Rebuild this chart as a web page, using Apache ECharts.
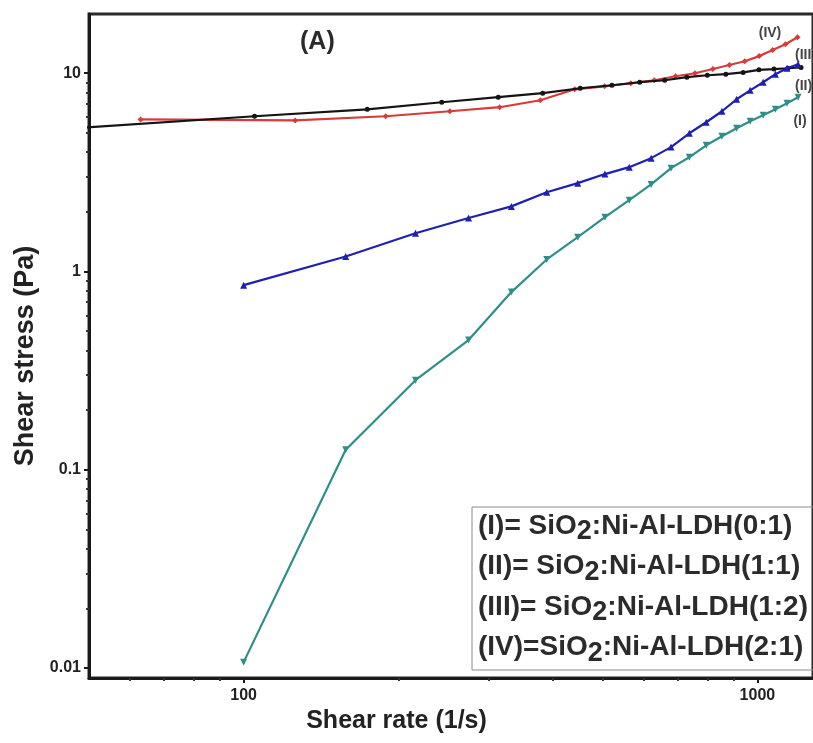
<!DOCTYPE html>
<html><head><meta charset="utf-8">
<script src="https://cdn.jsdelivr.net/npm/echarts@6/dist/echarts.min.js"></script>
<style>html,body{margin:0;padding:0;background:#fff}#c{width:813px;height:743px}</style>
</head><body><div id="c"></div>
<script>
// ---- data ----
const seriesNames = [
  '(I)= SiO2:Ni-Al-LDH(0:1)',
  '(II)= SiO2:Ni-Al-LDH(1:1)',
  '(III)= SiO2:Ni-Al-LDH(1:2)',
  '(IV)=SiO2:Ni-Al-LDH(2:1)'
];
const shortLabels = ['(I)', '(II)', '(III)', '(IV)'];
const rateI = [100, 158, 216, 274, 332, 389, 447, 505, 563, 621, 679, 737, 795, 853, 911, 968, 1026, 1084, 1142, 1200];
const stressI = [0.0107, 0.126, 0.283, 0.451, 0.787, 1.15, 1.49, 1.88, 2.29, 2.75, 3.32, 3.77, 4.33, 4.81, 5.28, 5.73, 6.14, 6.58, 7.06, 7.57];
const rateII = [100, 158, 216, 274, 332, 389, 447, 505, 563, 621, 679, 737, 795, 853, 911, 968, 1026, 1084, 1142, 1200];
const stressII = [0.853, 1.19, 1.56, 1.86, 2.13, 2.51, 2.79, 3.10, 3.36, 3.73, 4.24, 4.98, 5.66, 6.43, 7.39, 8.20, 9.01, 9.89, 10.6, 11.1];
const rateIII = [48, 105, 174, 243, 313, 382, 452, 521, 590, 660, 729, 799, 868, 938, 1007, 1077, 1146, 1216];
const stressIII = [5.30, 6.07, 6.58, 7.14, 7.57, 7.93, 8.40, 8.70, 9.01, 9.22, 9.55, 9.77, 9.89, 10.1, 10.4, 10.5, 10.6, 10.7];
const rateIV = [63, 126, 189, 252, 315, 378, 441, 504, 567, 630, 693, 756, 819, 882, 945, 1008, 1071, 1134, 1197];
const stressIV = [5.85, 5.78, 6.07, 6.43, 6.74, 7.31, 8.30, 8.59, 8.90, 9.22, 9.66, 10.0, 10.5, 11.0, 11.5, 12.2, 13.1, 14.0, 15.2];
const xMajorTicks = [100, 1000];
const xMinorTicks = [60, 70, 80, 90, 200, 300, 400, 500, 600, 700, 800, 900];
const yMajorTicks = [0.01, 0.1, 1, 10];
const yMinorTicks = [0.02, 0.03, 0.04, 0.05, 0.06, 0.07, 0.08, 0.09, 0.2, 0.3, 0.4, 0.5, 0.6, 0.7, 0.8, 0.9, 2, 3, 4, 5, 6, 7, 8, 9];
const xRange = [50, 1283];
const yRange = [0.0089, 19.9];

// ---- chart ----
const FONT = 'Liberation Sans';
const chart = echarts.init(document.getElementById('c'), null, {renderer: 'canvas'});
const pairs = (xs, ys) => xs.map((x, i) => [x, ys[i]]);
const colors = {I: '#2e8f89', II: '#1f1fb2', III: '#141414', IV: '#d93a3a'};

const richFmt = name => {
  const k = name.indexOf('SiO2');
  return '{t|' + name.slice(0, k + 3) + '}{s|2}{t|' + name.slice(k + 4) + '}';
};

const blackData = pairs(rateIII, stressIII).map((p, i) => i === 0 ? {value: p, symbol: 'none'} : p);

const option = {
  animation: false,
  backgroundColor: '#ffffff',
  grid: {left: 89, top: 14, width: 729, height: 664, show: true, borderColor: '#2a2a2a', borderWidth: 3, backgroundColor: 'transparent'},
  xAxis: [{
    type: 'log', logBase: 10, min: xRange[0], max: xRange[1],
    name: 'Shear rate (1/s)', nameLocation: 'middle', nameGap: 30,
    nameTextStyle: {fontFamily: FONT, fontWeight: 'bold', fontSize: 25, color: '#222', padding: [0, 109, 0, 0]},
    axisLine: {show: true, lineStyle: {color: '#1a1a1a', width: 3}},
    axisTick: {show: true, customValues: xMajorTicks, length: 5, lineStyle: {color: '#1a1a1a', width: 2}},
    axisLabel: {customValues: xMajorTicks, fontFamily: FONT, fontWeight: 'bold', fontSize: 16, color: '#222', margin: 10,
      formatter: v => String(v)},
    splitLine: {show: false}, minorTick: {show: false}
  }, {
    type: 'log', logBase: 10, min: xRange[0], max: xRange[1], position: 'bottom',
    axisLine: {show: false},
    axisTick: {show: true, customValues: xMinorTicks, length: 3, lineStyle: {color: '#333', width: 2}},
    axisLabel: {show: false}, splitLine: {show: false}
  }],
  yAxis: [{
    type: 'log', logBase: 10, min: yRange[0], max: yRange[1],
    name: 'Shear stress (Pa)', nameLocation: 'middle', nameGap: 47,
    nameTextStyle: {fontFamily: FONT, fontWeight: 'bold', fontSize: 27, color: '#222', padding: [0, 20, 0, 0]},
    axisLine: {show: true, lineStyle: {color: '#1a1a1a', width: 3}},
    axisTick: {show: true, customValues: yMajorTicks, length: 5, lineStyle: {color: '#1a1a1a', width: 2}},
    axisLabel: {customValues: yMajorTicks, fontFamily: FONT, fontWeight: 'bold', fontSize: 16, color: '#222', margin: 8,
      formatter: v => String(v)},
    splitLine: {show: false}
  }, {
    type: 'log', logBase: 10, min: yRange[0], max: yRange[1], position: 'left',
    axisLine: {show: false},
    axisTick: {show: true, customValues: yMinorTicks, length: 3, lineStyle: {color: '#333', width: 2}},
    axisLabel: {show: false}, splitLine: {show: false}
  }],
  legend: {
    data: seriesNames, orient: 'vertical', left: 472, top: 507,
    borderColor: '#8a8a8a', borderWidth: 1, padding: [5, 6, 3, 0],
    itemWidth: 0, itemHeight: 0, itemGap: 7, selectedMode: false,
    formatter: richFmt,
    textStyle: {rich: {
      t: {fontFamily: FONT, fontWeight: 'bold', fontSize: 28, color: '#2b2b2b'},
      s: {fontFamily: FONT, fontWeight: 'bold', fontSize: 27, color: '#2b2b2b', padding: [12, 0, 0, 0]}
    }}
  },
  graphic: [
    {type: 'text', left: 300, top: 30, style: {text: '(A)', font: 'bold 25px "Liberation Sans"', fill: '#2a2a2a'}},
    {type: 'text', x: 770, y: 33, style: {text: shortLabels[3], font: 'bold 14px "Liberation Sans"', fill: '#444', align: 'center', verticalAlign: 'middle'}},
    {type: 'text', x: 795, y: 55, style: {text: shortLabels[2], font: 'bold 14px "Liberation Sans"', fill: '#444', align: 'left', verticalAlign: 'middle'}},
    {type: 'text', x: 795, y: 86, style: {text: shortLabels[1], font: 'bold 14px "Liberation Sans"', fill: '#444', align: 'left', verticalAlign: 'middle'}},
    {type: 'text', x: 800, y: 121, style: {text: shortLabels[0], font: 'bold 14px "Liberation Sans"', fill: '#444', align: 'center', verticalAlign: 'middle'}}
  ],
  series: [
    {name: seriesNames[3], type: 'line', data: pairs(rateIV, stressIV), color: colors.IV,
      symbol: 'diamond', symbolSize: 6, lineStyle: {width: 2.2}, z: 2},
    {name: seriesNames[2], type: 'line', data: blackData, color: colors.III,
      symbol: 'circle', symbolSize: 5, lineStyle: {width: 2.2}, z: 3},
    {name: seriesNames[0], type: 'line', data: pairs(rateI, stressI), color: colors.I,
      symbol: 'triangle', symbolRotate: 180, symbolSize: 7, lineStyle: {width: 2.2}, z: 4},
    {name: seriesNames[1], type: 'line', data: pairs(rateII, stressII), color: colors.II,
      symbol: 'triangle', symbolSize: 7, lineStyle: {width: 2.2}, z: 5}
  ]
};
chart.setOption(option);
</script></body></html>
